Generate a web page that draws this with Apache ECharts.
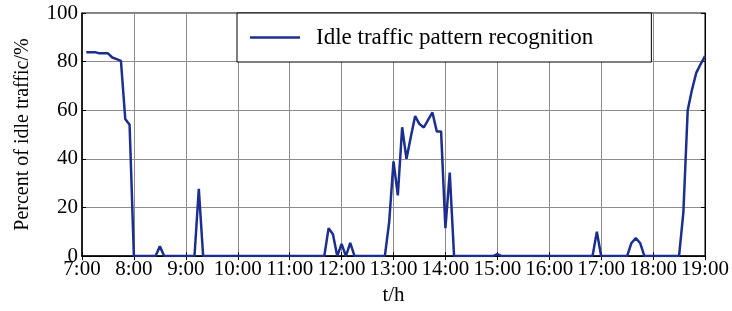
<!DOCTYPE html>
<html>
<head>
<meta charset="utf-8">
<script src="https://cdn.jsdelivr.net/npm/echarts@6/dist/echarts.min.js"></script>
<style>
html, body { margin: 0; padding: 0; background: #fff; }
#chart { width: 732px; height: 311px; }
</style>
</head>
<body>
<div id="chart"></div>
<script>
// samples every 5 min, first one at 7:05, last one at 19:00
const startHour = 7 + 5 / 60;
const stepHour = 5 / 60;
const idleValues = [
    83.9, 83.9, 83.9, 83.4, 83.4, 83.4, 81.7, 81.0, 80.3, 56.4, 54.0, 0,   // 7:05 - 8:00
    0, 0, 0, 0, 0, 4.0, 0, 0, 0, 0, 0, 0,                                   // 8:05 - 9:00
    0, 0, 27.7, 0, 0, 0, 0, 0, 0, 0, 0, 0,                                  // 9:05 - 10:00
    0, 0, 0, 0, 0, 0, 0, 0, 0, 0, 0, 0,                                     // 10:05 - 11:00
    0, 0, 0, 0, 0, 0, 0, 0, 11.5, 9.0, 0, 5.0,                              // 11:05 - 12:00
    0, 5.4, 0, 0, 0, 0, 0, 0, 0, 0, 14.0, 39.0,                             // 12:05 - 13:00
    25.0, 53.0, 40.0, 49.0, 57.6, 54.3, 52.9, 56.0, 59.1, 51.3, 51.3, 11.5, // 13:05 - 14:00
    34.4, 0, 0, 0, 0, 0, 0, 0, 0, 0, 0, 0.8,                                // 14:05 - 15:00
    0, 0, 0, 0, 0, 0, 0, 0, 0, 0, 0, 0,                                     // 15:05 - 16:00
    0, 0, 0, 0, 0, 0, 0, 0, 0, 0, 10.0, 0,                                  // 16:05 - 17:00
    0, 0, 0, 0, 0, 0, 5.4, 7.4, 5.4, 0, 0, 0,                               // 17:05 - 18:00
    0, 0, 0, 0, 0, 0, 18.0, 60.0, 68.5, 75.5, 79.0, 82.3                    // 18:05 - 19:00
];
const hourLabels = ['7:00', '8:00', '9:00', '10:00', '11:00', '12:00', '13:00',
    '14:00', '15:00', '16:00', '17:00', '18:00', '19:00'];
const seriesName = 'Idle traffic pattern recognition';

const font = 'Liberation Serif';
const lineColor = '#1c2f8e';

const chart = echarts.init(document.getElementById('chart'), null, { renderer: 'canvas' });

const tickStyle = { show: true, inside: true, length: 4, lineStyle: { color: '#000', width: 1 } };

const option = {
    animation: false,
    backgroundColor: '#fff',
    grid: {
        left: 82, right: 27, top: 13, bottom: 51,
        show: true, borderColor: '#000', borderWidth: 1
    },
    legend: {
        left: 237, top: 13,
        orient: 'horizontal',
        data: [{ name: seriesName, icon: 'rect' }],
        itemWidth: 50, itemHeight: 2.5,
        itemGap: 0,
        padding: [13, 58, 13, 13],
        borderColor: '#000', borderWidth: 1,
        backgroundColor: '#fff',
        textStyle: { fontFamily: font, fontSize: 23, color: '#000', lineHeight: 22, padding: [0, 0, 0, 11] }
    },
    xAxis: [{
        type: 'value', min: 7, max: 19, interval: 1,
        name: 't/h', nameLocation: 'middle', nameGap: 28,
        nameTextStyle: { fontFamily: font, fontSize: 21, color: '#000' },
        axisLine: { show: true, lineStyle: { color: '#000', width: 1.5 } },
        axisTick: tickStyle,
        splitLine: { show: true, lineStyle: { color: '#8c8c8c', width: 1 } },
        axisLabel: {
            fontFamily: font, fontSize: 21, color: '#000', margin: 3,
            formatter: v => hourLabels[Math.round(v - 7)]
        }
    }, {
        type: 'value', min: 7, max: 19, interval: 1, position: 'top',
        axisLine: { show: true, lineStyle: { color: '#000', width: 1 } },
        axisTick: tickStyle, axisLabel: { show: false }, splitLine: { show: false }
    }],
    yAxis: [{
        type: 'value', min: 0, max: 100, interval: 20,
        name: 'Percent of idle traffic/%', nameLocation: 'middle', nameGap: 49,
        nameTextStyle: { fontFamily: font, fontSize: 20, color: '#000' },
        axisLine: { show: true, lineStyle: { color: '#000', width: 1.5 } },
        axisTick: tickStyle,
        splitLine: { show: true, lineStyle: { color: '#8c8c8c', width: 1 } },
        axisLabel: { fontFamily: font, fontSize: 21, color: '#000', margin: 4 }
    }, {
        type: 'value', min: 0, max: 100, interval: 20, position: 'right',
        axisLine: { show: true, lineStyle: { color: '#000', width: 1 } },
        axisTick: tickStyle, axisLabel: { show: false }, splitLine: { show: false }
    }],
    series: [{
        name: seriesName,
        type: 'line',
        xAxisIndex: 0, yAxisIndex: 0,
        symbol: 'none',
        lineStyle: { color: lineColor, width: 2.5 },
        itemStyle: { color: lineColor },
        data: idleValues.map((v, i) => [startHour + i * stepHour, v])
    }]
};

chart.setOption(option);
</script>
</body>
</html>
